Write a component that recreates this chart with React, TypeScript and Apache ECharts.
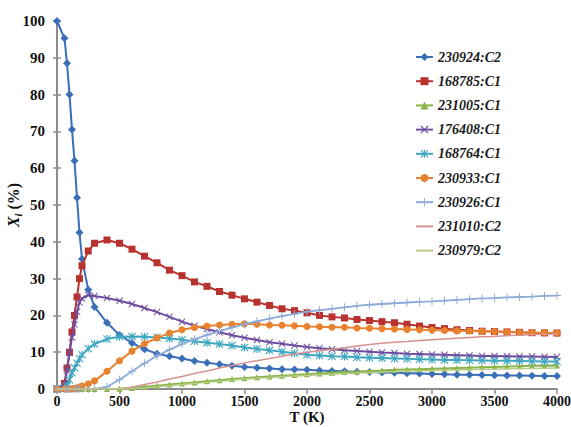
import React, { useEffect, useRef } from "react";
import * as echarts from "echarts";

const temperatures = [0, 60, 80, 100, 120, 140, 160, 180, 200, 250, 300,
  400, 500, 600, 700, 800, 900, 1000,
  1100, 1200, 1300, 1400, 1500,
  1600, 1700, 1800, 1900, 2000,
  2100, 2200, 2300, 2400, 2500,
  2600, 2700, 2800, 2900, 3000,
  3100, 3200, 3300, 3400, 3500,
  3600, 3700, 3800, 3900, 4000];

const seriesNames = ["230924:C2", "168785:C1", "231005:C1", "176408:C1", "168764:C1", "230933:C1", "230926:C1", "231010:C2", "230979:C2"];

const s230924 = [100, 95.3, 88.5, 80, 70.5, 62, 52, 42.5, 35.3, 27, 22.3,
  18, 14.7, 12.5, 10.8, 9.6, 8.9, 8.3,
  7.6, 7.1, 6.7, 6.3, 6.0,
  5.8, 5.6, 5.4, 5.3, 5.2,
  5.0, 4.9, 4.8, 4.7, 4.6,
  4.5, 4.4, 4.3, 4.2, 4.1,
  4.0, 3.9, 3.85, 3.8, 3.75,
  3.7, 3.65, 3.6, 3.55, 3.5];

const s168785 = [0, 1.5, 5.7, 10, 15.5, 20, 25, 30, 33.5, 37.5, 39.6,
  40.5, 39.6, 38, 36.1, 34.3, 32.3, 30.8,
  29.1, 27.9, 26.5, 25.5, 24.5,
  23.6, 22.7, 21.8, 21.3, 20.7,
  20.0, 19.6, 19.3, 18.9, 18.6,
  18.3, 18.0, 17.6, 17.1, 16.7,
  16.4, 16.1, 15.9, 15.7, 15.6,
  15.5, 15.4, 15.3, 15.25, 15.2];

const s231005 = [0, 0, 0, 0, 0, 0, 0, 0, 0, 0, 0,
  0, 0.1, 0.3, 0.6, 0.9, 1.2, 1.5,
  1.8, 2.1, 2.4, 2.7, 2.9,
  3.2, 3.4, 3.6, 3.8, 4.0,
  4.2, 4.4, 4.6, 4.7, 4.9,
  5.0, 5.2, 5.3, 5.4, 5.5,
  5.6, 5.7, 5.8, 5.9, 6.0,
  6.1, 6.2, 6.3, 6.35, 6.4];

const s176408 = [0, 1, 5, 9.8, 14, 17.5, 21, 23.5, 24.6, 25.5, 25.3,
  24.7, 24.0, 23.1, 22.0, 20.9, 19.6, 18.3,
  17.2, 16.3, 15.4, 14.6, 13.9,
  13.3, 12.7, 12.3, 11.8, 11.4,
  11.1, 10.8, 10.5, 10.3, 10.1,
  9.9, 9.8, 9.6, 9.5, 9.4,
  9.3, 9.2, 9.1, 9.0, 8.95,
  8.9, 8.85, 8.8, 8.75, 8.7];

const s168764 = [0, 0.2, 0.8, 2.5, 4.4, 5.8, 7.0, 8.2, 9.3, 11.0, 12.2,
  13.6, 14.2, 14.3, 14.2, 14.0, 13.7, 13.4,
  13.0, 12.6, 12.2, 11.8, 11.3,
  10.9, 10.5, 10.1, 9.7, 9.3,
  9.1, 8.9, 8.8, 8.6, 8.5,
  8.4, 8.3, 8.2, 8.1, 8.0,
  7.9, 7.85, 7.8, 7.75, 7.7,
  7.65, 7.6, 7.55, 7.5, 7.45];

const s230933 = [0, 0, 0, 0, 0.1, 0.2, 0.3, 0.5, 0.8, 1.4, 2.2,
  4.8, 7.7, 10.3, 12.3, 13.9, 15.2, 16.1,
  16.7, 17.1, 17.4, 17.6, 17.7,
  17.6, 17.4, 17.3, 17.2, 17.0,
  16.9, 16.8, 16.8, 16.6, 16.5,
  16.4, 16.3, 16.2, 16.1, 16.0,
  15.9, 15.8, 15.75, 15.7, 15.6,
  15.5, 15.4, 15.35, 15.3, 15.2];

const s230926 = [0, 0, 0, 0, 0, 0, 0, 0, 0, 0, 0,
  0.6, 2.5, 4.8, 7.0, 9.0, 10.7, 12.2,
  13.5, 14.7, 15.7, 16.7, 17.6,
  18.4, 19.1, 19.8, 20.4, 21.0,
  21.4, 21.8, 22.2, 22.6, 22.9,
  23.1, 23.3, 23.5, 23.7, 23.8,
  24.0, 24.2, 24.4, 24.6, 24.7,
  24.9, 25.0, 25.1, 25.3, 25.4];

const s231010 = [0, 0, 0, 0, 0, 0, 0, 0, 0, 0, 0,
  0, 0, 0.5, 1.2, 1.9, 2.7, 3.4,
  4.2, 4.9, 5.7, 6.4, 7.1,
  7.7, 8.3, 8.9, 9.5, 10.0,
  10.4, 10.8, 11.2, 11.7, 12.1,
  12.4, 12.7, 12.9, 13.2, 13.4,
  13.6, 13.8, 14.0, 14.2, 14.3,
  14.5, 14.6, 14.8, 14.9, 15.0];

const s230979 = [0, 0, 0, 0, 0, 0, 0, 0, 0, 0, 0,
  0, 0, 0.1, 0.3, 0.6, 0.9, 1.2,
  1.5, 1.8, 2.1, 2.4, 2.7,
  2.9, 3.1, 3.3, 3.5, 3.7,
  3.9, 4.0, 4.2, 4.3, 4.5,
  4.6, 4.7, 4.8, 4.9, 5.0,
  5.1, 5.2, 5.3, 5.35, 5.4,
  5.5, 5.55, 5.6, 5.65, 5.7];

const yTicks = [0, 10, 20, 30, 40, 50, 60, 70, 80, 90, 100];
const xTicks = [0, 500, 1000, 1500, 2000, 2500, 3000, 3500, 4000];

const allValues = [s230924, s168785, s231005, s176408, s168764, s230933, s230926, s231010, s230979];
const colors = ["#3A6FB8", "#B8322F", "#8AB446", "#6E4D9E", "#3EA7C0", "#E8822E", "#8EABD8", "#D99090", "#B5CC8A"];

const X_PATH = "path://M0,1L1,0L5,4L9,0L10,1L6,5L10,9L9,10L5,6L1,10L0,9L4,5Z";
const STAR_PATH = "path://M0,1L1,0L5,4L9,0L10,1L6,5L10,9L9,10L5,6L1,10L0,9L4,5Z M4.3,0L5.7,0L5.7,10L4.3,10Z";
const PLUS_PATH = "path://M4.4,0L5.6,0L5.6,4.4L10,4.4L10,5.6L5.6,5.6L5.6,10L4.4,10L4.4,5.6L0,5.6L0,4.4L4.4,4.4Z";

const symbols: any[] = ["diamond", "rect", "triangle", X_PATH, STAR_PATH, "circle", PLUS_PATH, "none", "none"];
const symbolSizes = [8, 7, 6, 7, 8, 7, 8, 0, 0];
const lineWidths = [2, 2, 2, 2, 2, 2, 1.8, 1.5, 1.5];

const serif = "'Liberation Serif', 'Times New Roman', serif";

export default function App() {
  const ref = useRef<HTMLDivElement>(null);
  useEffect(() => {
    document.body.style.margin = "0";
    if (!ref.current) return;
    const chart = echarts.init(ref.current, null, { renderer: "svg" });
    const series = allValues.map((vals, k) => ({
      name: seriesNames[k],
      type: "line",
      data: temperatures.map((t, i) => [t, vals[i]]),
      symbol: symbols[k],
      symbolSize: symbolSizes[k],
      showSymbol: symbols[k] !== "none",
      lineStyle: { color: colors[k], width: lineWidths[k] },
      itemStyle: { color: colors[k] },
      z: 2 + k,
    }));
    chart.setOption({
      animation: false,
      backgroundColor: "#ffffff",
      grid: { left: 57, right: 14, top: 21, bottom: 38, containLabel: false, outerBoundsMode: "none" },
      legend: {
        orient: "vertical",
        left: 415,
        top: 50,
        padding: 0,
        itemWidth: 17,
        itemHeight: 10,
        itemGap: 10.2,
        data: seriesNames.map((n, k) =>
          symbols[k] === "none" ? { name: n, itemStyle: { opacity: 0 } } : { name: n }
        ),
        textStyle: { fontFamily: serif, fontStyle: "italic", fontWeight: "bold", fontSize: 14, color: "#1a1a1a" },
      },
      xAxis: {
        type: "value",
        min: xTicks[0],
        max: xTicks[xTicks.length - 1],
        interval: 500,
        name: "T (K)",
        nameLocation: "middle",
        nameGap: 20,
        nameMoveOverlap: false,
        nameTextStyle: { fontFamily: serif, fontWeight: "bold", fontSize: 15, color: "#111", lineHeight: 15 },
        axisLine: { lineStyle: { color: "#8c8c8c", width: 2 } },
        axisTick: { show: true, length: 5, lineStyle: { color: "#8c8c8c", width: 1.5 } },
        axisLabel: {
          margin: 5, fontFamily: serif, fontWeight: "bold", fontSize: 14, color: "#111", lineHeight: 14,
          formatter: (v: number) => String(v),
        },
        splitLine: { show: false },
      },
      yAxis: [
        {
          type: "value",
          min: yTicks[0],
          max: yTicks[yTicks.length - 1],
          interval: 10,
          name: "{x|X}{i|i}{p| (%)}",
          nameLocation: "middle",
          nameRotate: 90,
          nameGap: 34,
          nameMoveOverlap: false,
          nameTextStyle: {
            rich: {
              x: { fontFamily: serif, fontStyle: "italic", fontWeight: "bold", fontSize: 16, color: "#111" },
              i: { fontFamily: serif, fontStyle: "italic", fontWeight: "bold", fontSize: 11, color: "#111", verticalAlign: "bottom", lineHeight: 20 },
              p: { fontFamily: serif, fontWeight: "bold", fontSize: 16, color: "#111" },
            },
          },
          axisLine: { show: true, lineStyle: { color: "#8c8c8c", width: 2 } },
          axisTick: { show: true, length: 4, lineStyle: { color: "#8c8c8c", width: 1.5 } },
          axisLabel: {
            margin: 12, fontFamily: serif, fontWeight: "bold", fontSize: 15, color: "#111",
            formatter: (v: number) => String(v),
          },
          splitLine: { show: false },
        },
        {
          type: "value",
          min: yTicks[0],
          max: yTicks[yTicks.length - 1],
          interval: 10,
          position: "left",
          axisLine: { show: false },
          axisTick: { show: true, inside: true, length: 4, lineStyle: { color: "#8c8c8c", width: 1.5 } },
          axisLabel: { show: false },
          splitLine: { show: false },
        },
      ],
      series,
    });
    return () => chart.dispose();
  }, []);
  return <div ref={ref} style={{ width: 571, height: 427 }} />;
}
